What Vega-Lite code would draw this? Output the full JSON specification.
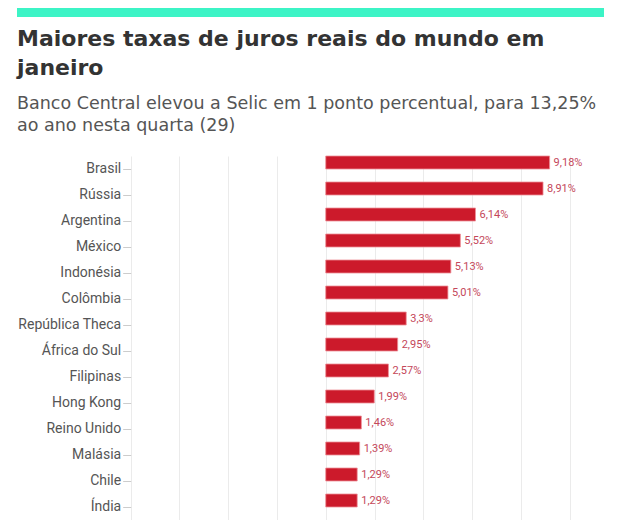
{
  "$schema": "https://vega.github.io/schema/vega-lite/v6.json",
  "background": "white",
  "padding": {"left": 17, "top": 8, "right": 0, "bottom": 0},
  "spacing": 11,
  "config": {"view": {"stroke": null}, "font": "Roboto"},
  "vconcat": [
    {
      "width": 587,
      "height": 9,
      "data": {"values": [{"start": 0, "end": 1}]},
      "mark": {"type": "rect", "color": "#3cf4c6"},
      "encoding": {
        "x": {"field": "start", "type": "quantitative", "scale": {"domain": [0, 1], "nice": false}, "axis": null},
        "x2": {"field": "end"}
      }
    },
    {
      "width": 577,
      "height": 364,
      "title": {
        "text": ["Maiores taxas de juros reais do mundo em", "janeiro"],
        "subtitle": ["Banco Central elevou a Selic em 1 ponto percentual, para 13,25%", "ao ano nesta quarta (29)"],
        "anchor": "start",
        "frame": "bounds",
        "font": "DejaVu Sans",
        "fontSize": 22,
        "fontWeight": "bold",
        "color": "#333333",
        "lineHeight": 29,
        "subtitleFont": "DejaVu Sans",
        "subtitleFontSize": 17.5,
        "subtitleColor": "#555555",
        "subtitleLineHeight": 22,
        "subtitlePadding": 15,
        "offset": 20
      },
      "data": {
        "values": [
          {"pais": "Brasil", "taxa": 9.18, "rotulo": "9,18%"},
          {"pais": "Rússia", "taxa": 8.91, "rotulo": "8,91%"},
          {"pais": "Argentina", "taxa": 6.14, "rotulo": "6,14%"},
          {"pais": "México", "taxa": 5.52, "rotulo": "5,52%"},
          {"pais": "Indonésia", "taxa": 5.13, "rotulo": "5,13%"},
          {"pais": "Colômbia", "taxa": 5.01, "rotulo": "5,01%"},
          {"pais": "República Theca", "taxa": 3.3, "rotulo": "3,3%"},
          {"pais": "África do Sul", "taxa": 2.95, "rotulo": "2,95%"},
          {"pais": "Filipinas", "taxa": 2.57, "rotulo": "2,57%"},
          {"pais": "Hong Kong", "taxa": 1.99, "rotulo": "1,99%"},
          {"pais": "Reino Unido", "taxa": 1.46, "rotulo": "1,46%"},
          {"pais": "Malásia", "taxa": 1.39, "rotulo": "1,39%"},
          {"pais": "Chile", "taxa": 1.29, "rotulo": "1,29%"},
          {"pais": "Índia", "taxa": 1.29, "rotulo": "1,29%"}
        ]
      },
      "encoding": {
        "y": {
          "field": "pais",
          "type": "nominal",
          "sort": null,
          "scale": {"paddingInner": 0.5, "paddingOuter": 0.25},
          "axis": {
            "title": null,
            "domain": false,
            "offset": -113.7,
            "labelFont": "Roboto",
            "labelFontSize": 14,
            "labelColor": "#555555",
            "tickColor": "#cccccc",
            "tickSize": 8,
            "labelPadding": 2
          }
        },
        "x": {
          "field": "taxa",
          "type": "quantitative",
          "scale": {"domain": [-12.66, 11], "nice": false, "zero": false},
          "axis": {
            "title": null,
            "values": [-8, -6, -4, -2, 0, 2, 4, 6, 8, 10],
            "labels": false,
            "ticks": false,
            "domain": false,
            "grid": true,
            "gridColor": "#ebebeb"
          }
        }
      },
      "layer": [
        {
          "mark": {"type": "bar", "color": "#cc1a2b", "stroke": "#ee8f98", "strokeWidth": 0.8, "yOffset": -6.5}
        },
        {
          "mark": {"type": "text", "align": "left", "baseline": "middle", "dx": 4, "yOffset": -6.5, "fontSize": 11, "color": "#c4475a", "font": "Roboto"},
          "encoding": {"text": {"field": "rotulo"}}
        }
      ]
    }
  ]
}
